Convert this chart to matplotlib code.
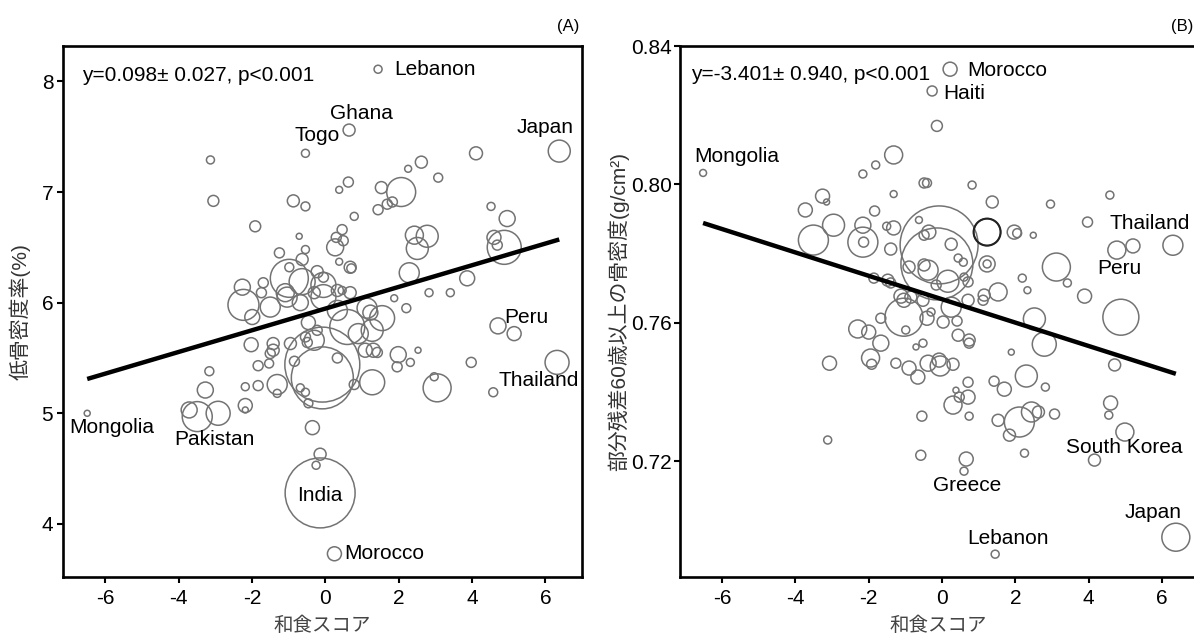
import numpy as np
import matplotlib
matplotlib.use("Agg")
import matplotlib.pyplot as plt

plt.rcParams['font.family'] = ['Liberation Sans', 'Noto Sans CJK JP', 'DejaVu Sans']

# ---- panel A : 和食スコア vs 低骨密度率 ----
xa = [1.44, 0.65, -0.54, 6.38, -3.13, -3.05, 4.11, 2.62, 2.26, 3.08,
      0.63, 0.38, 1.53, 2.07, 1.83, 1.69, 1.44, -0.87, -0.54, 0.79,
      -1.91, 4.52, 4.96, 0.46, -0.71, 0.30, 0.49, 0.27, 2.43, 2.78,
      2.51, 4.60, 4.69, 4.88, -1.25, -0.54, -0.63, 0.38, 0.68, 0.71,
      -0.98, -0.98, 2.29, 3.87, -0.22, -0.05, -0.05, 2.83, 3.41, 1.88,
      2.21, -2.26, -1.69, -1.74, -0.63, 0.33, 0.46, 0.68, -2.23, -1.50,
      -1.99, -1.04, -0.68, -0.46, -0.05, 0.33, 0.60, 1.14, 1.23, 1.55,
      0.90, 1.28, -0.22, -0.54, -0.49, -0.30, -2.02, -1.42, -1.42, -1.50,
      -0.95, -1.83, -1.53, -0.84, -3.16, -3.27, -2.18, -1.83, -1.31, -1.31,
      -0.68, -0.54, -0.46, -0.08, -0.08, 0.33, 0.79, 1.28, 1.31, 1.09,
      1.99, 1.96, 2.32, 2.53, 3.05, 2.97, 3.98, 4.58, 4.71, 5.15,
      6.32, -0.35, -2.18, -2.18, -2.92, -3.49, -3.71, -6.49, -0.14, -0.25,
      -0.14, 0.25, 1.42, -1.09, -0.30]
ya = [8.11, 7.56, 7.35, 7.37, 7.29, 6.92, 7.35, 7.27, 7.21, 7.13,
      7.09, 7.02, 7.04, 7.00, 6.91, 6.89, 6.84, 6.92, 6.87, 6.78,
      6.69, 6.87, 6.76, 6.66, 6.60, 6.59, 6.56, 6.50, 6.61, 6.60,
      6.49, 6.59, 6.52, 6.50, 6.45, 6.48, 6.39, 6.37, 6.32, 6.31,
      6.32, 6.22, 6.27, 6.22, 6.28, 6.23, 6.16, 6.09, 6.09, 6.04,
      5.95, 6.14, 6.18, 6.09, 6.19, 6.11, 6.11, 6.09, 5.98, 5.96,
      5.87, 6.05, 6.00, 5.82, 6.05, 5.93, 5.78, 5.95, 5.91, 5.86,
      5.72, 5.75, 5.75, 5.69, 5.64, 5.66, 5.62, 5.63, 5.57, 5.54,
      5.63, 5.43, 5.45, 5.47, 5.38, 5.21, 5.24, 5.25, 5.26, 5.18,
      5.23, 5.19, 5.09, 5.44, 5.32, 5.50, 5.26, 5.28, 5.57, 5.57,
      5.53, 5.42, 5.46, 5.57, 5.23, 5.33, 5.46, 5.19, 5.79, 5.72,
      5.46, 4.87, 5.07, 5.03, 5.00, 4.97, 5.03, 5.00, 4.63, 4.53,
      4.28, 3.73, 5.55, 6.09, 6.09]
pa = [16, 36, 16, 121, 16, 30, 42, 36, 12, 20,
      25, 12, 36, 210, 25, 25, 25, 36, 20, 16,
      30, 16, 64, 25, 9, 25, 25, 72, 81, 121,
      121, 49, 25, 289, 25, 16, 36, 12, 36, 20,
      20, 361, 100, 56, 36, 25, 156, 16, 16, 12,
      20, 64, 25, 25, 169, 36, 16, 36, 240, 100,
      56, 100, 64, 49, 156, 100, 306, 100, 56, 156,
      100, 121, 25, 25, 25, 100, 49, 36, 36, 25,
      36, 25, 20, 25, 20, 64, 16, 25, 100, 16,
      16, 16, 20, 1406, 961, 25, 25, 156, 49, 49,
      64, 25, 16, 9, 196, 16, 25, 20, 64, 49,
      144, 49, 49, 9, 144, 225, 64, 9, 36, 16,
      1225, 49, 25, 81, 36]
fit_a = (5.946, 0.098)
labels_a = [("Lebanon", 1.88, 8.11, 'left'), ("Ghana", 0.98, 7.71, 'center'),
            ("Togo", -0.22, 7.51, 'center'), ("Japan", 6.0, 7.58, 'center'),
            ("Peru", 5.48, 5.87, 'center'), ("Thailand", 5.83, 5.30, 'center'),
            ("Mongolia", -5.83, 4.87, 'center'), ("Pakistan", -3.02, 4.76, 'center'),
            ("India", -0.14, 4.26, 'center'), ("Morocco", 0.52, 3.73, 'left')]

# ---- panel B : 和食スコア vs 部分残差 骨密度 ----
xb = [0.22, -0.27, -0.14, -6.52, -1.32, -1.81, -2.16, -0.49, -0.41, 0.82,
      -1.32, 1.37, 2.96, 4.58, -3.26, -3.15, -3.73, -2.96, -1.84, -3.51,
      -2.16, -2.16, -2.14, -1.51, -1.32, -0.63, -1.40, -0.49, -0.36, -0.08,
      -0.14, 1.23, 1.97, 2.05, 2.49, 3.97, 6.30, 4.77, 5.21, 3.12,
      3.42, 1.23, 1.23, 1.53, 2.19, 2.33, 3.89, 4.88, 2.52, 2.79,
      1.89, 4.71, 2.30, 1.42, 1.70, 2.82, 4.60, 4.55, 2.11, 2.44,
      2.63, 3.07, 1.53, 1.84, 4.99, 2.25, 4.16, -0.58, 0.66, 0.60,
      1.45, 6.38, -3.12, -3.07, 0.25, 0.44, 0.58, -0.49, -0.90, -0.38,
      0.16, 0.60, 0.71, -0.16, -1.48, -1.40, -1.86, -1.12, -1.04, -0.85,
      -0.52, 0.25, 0.71, 1.15, 1.12, -1.04, -0.99, -1.67, -2.30, -2.00,
      -1.67, -0.41, 0.03, 0.41, 0.44, 0.74, 0.74, -0.52, -0.71, -1.95,
      -1.92, -1.26, -0.90, -0.66, -0.38, -0.08, -0.05, 0.30, 0.71, 0.38,
      0.47, 0.71, 0.30, -0.55, 0.74, -0.30]
yb = [0.8333, 0.8270, 0.8169, 0.8033, 0.8085, 0.8056, 0.8030, 0.8004, 0.8004, 0.7998,
      0.7972, 0.7949, 0.7943, 0.7969, 0.7966, 0.7949, 0.7926, 0.7882, 0.7923, 0.7839,
      0.7882, 0.7833, 0.7833, 0.7879, 0.7874, 0.7897, 0.7813, 0.7853, 0.7862, 0.7825,
      0.7770, 0.7862, 0.7862, 0.7859, 0.7853, 0.7891, 0.7824, 0.7810, 0.7822, 0.7761,
      0.7715, 0.7770, 0.7770, 0.7689, 0.7729, 0.7694, 0.7677, 0.7616, 0.7611, 0.7538,
      0.7515, 0.7478, 0.7446, 0.7431, 0.7408, 0.7414, 0.7368, 0.7333, 0.7313, 0.7342,
      0.7342, 0.7336, 0.7318, 0.7275, 0.7284, 0.7223, 0.7203, 0.7217, 0.7206, 0.7171,
      0.6931, 0.6980, 0.7261, 0.7483, 0.7827, 0.7787, 0.7775, 0.7767, 0.7761, 0.7752,
      0.7720, 0.7732, 0.7718, 0.7709, 0.7723, 0.7715, 0.7729, 0.7677, 0.7665, 0.7674,
      0.7665, 0.7645, 0.7665, 0.7680, 0.7665, 0.7616, 0.7579, 0.7613, 0.7582, 0.7573,
      0.7541, 0.7613, 0.7602, 0.7605, 0.7564, 0.7550, 0.7541, 0.7541, 0.7530, 0.7498,
      0.7480, 0.7483, 0.7469, 0.7443, 0.7483, 0.7492, 0.7475, 0.7480, 0.7428, 0.7405,
      0.7385, 0.7385, 0.7362, 0.7330, 0.7330, 0.7631]
pb = [49, 25, 30, 12, 81, 16, 16, 25, 20, 16,
      12, 36, 16, 16, 49, 9, 49, 121, 25, 225,
      64, 225, 25, 16, 49, 12, 36, 25, 49, 1521,
      1296, 182, 49, 20, 9, 25, 100, 81, 49, 196,
      16, 64, 16, 81, 16, 12, 49, 324, 121, 144,
      9, 36, 121, 25, 49, 16, 49, 16, 225, 100,
      36, 25, 36, 36, 81, 16, 36, 25, 49, 16,
      16, 196, 16, 49, 36, 16, 16, 36, 36, 100,
      121, 16, 25, 25, 36, 25, 25, 49, 49, 36,
      36, 100, 36, 36, 25, 361, 16, 25, 81, 49,
      64, 49, 36, 25, 36, 36, 25, 16, 9, 81,
      25, 25, 49, 49, 64, 49, 100, 36, 25, 9,
      25, 49, 81, 25, 16, 16]
dark_b = 31   # the one circle drawn in black
fit_b = (0.7668, -0.00338)
labels_b = [("Morocco", 0.68, 0.8328, 'left'), ("Haiti", 0.03, 0.8264, 'left'),
            ("Mongolia", -5.59, 0.8082, 'center'), ("Thailand", 4.58, 0.7888, 'left'),
            ("Peru", 4.85, 0.7758, 'center'), ("South Korea", 4.96, 0.7240, 'center'),
            ("Greece", 0.68, 0.7130, 'center'), ("Japan", 5.75, 0.7052, 'center'),
            ("Lebanon", 1.81, 0.6977, 'center')]

W, H = 1194, 633
fig = plt.figure(figsize=(W / 100, H / 100), dpi=100)
axA = fig.add_axes([63 / W, 56 / H, 519 / W, 531 / H])
axB = fig.add_axes([680 / W, 56 / H, 516 / W, 531 / H])

gray = '#737373'
k = 2.07  # marker area per unit


def draw(ax, x, y, p, fit, labels):
    ax.scatter(x, y, s=np.array(p) * k, facecolors='none', edgecolors=gray, linewidths=1.1, zorder=2)
    lx = np.array([min(x), max(x)])
    ax.plot(lx, fit[0] + fit[1] * lx, color='black', lw=3.2, solid_capstyle='butt', zorder=3)
    for name, tx, ty, ha in labels:
        ax.text(tx, ty, name, fontsize=15, ha=ha, va='center', zorder=4)
    for sp in ax.spines.values():
        sp.set_linewidth(1.9)
    ax.tick_params(labelsize=15, width=1.5, length=4, pad=5)
    ax.set_xticks([-6, -4, -2, 0, 2, 4, 6])
    ax.set_xticklabels(['-6', '-4', '-2', '0', '2', '4', '6'])
    ax.set_xlabel('和食スコア', fontsize=14, color='#444444', labelpad=6)


draw(axA, xa, ya, pa, fit_a, labels_a)
axA.set_xlim(-7.15, 7.0)
axA.set_ylim(3.52, 8.32)
axA.set_yticks([4, 5, 6, 7, 8])
axA.tick_params(axis='y', pad=3)
axA.set_ylabel('低骨密度率(%)', fontsize=15, color='#333333', labelpad=8)
axA.text(0.037, 0.945, 'y=0.098± 0.027, p<0.001', transform=axA.transAxes,
         fontsize=15, va='center', ha='left')

draw(axB, xb, yb, pb, fit_b, labels_b)
axB.scatter([xb[dark_b]], [yb[dark_b]], s=pb[dark_b] * k, facecolors='none',
            edgecolors='#222222', linewidths=1.5, zorder=2)
axB.set_xlim(-7.15, 6.93)
axB.set_ylim(0.6865, 0.84)
axB.set_yticks([0.72, 0.76, 0.80, 0.84])
axB.set_yticklabels(['0.72', '0.76', '0.80', '0.84'])
axB.tick_params(axis='y', pad=2)
axB.set_ylabel('部分残差60歳以上の骨密度(g/cm²)', fontsize=15, color='#333333', labelpad=1)
axB.text(0.021, 0.947, 'y=-3.401± 0.940, p<0.001', transform=axB.transAxes,
         fontsize=15, va='center', ha='left')

fig.text(568 / W, 1 - 27 / H, '(A)', fontsize=12, ha='center', va='center')
fig.text(1182 / W, 1 - 27 / H, '(B)', fontsize=12, ha='center', va='center')

fig.savefig('out.png', dpi=100)
